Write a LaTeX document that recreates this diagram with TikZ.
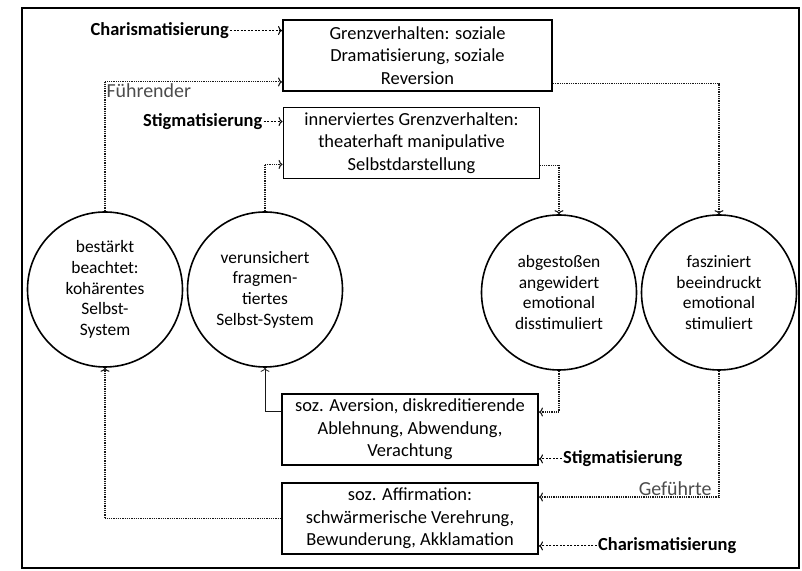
\documentclass[tikz,border=0pt]{standalone}
\usepackage{fontspec}
\setmainfont{Carlito}
\usetikzlibrary{arrows.meta,positioning}

\begin{document}
\begin{tikzpicture}[x=1bp,y=1bp,node distance=160bp,>={To[length=4bp,width=9bp]}]
            \tikzstyle{zustand}=[circle,draw,line width=1.6bp,minimum size=155bp,inner sep=0pt,align=center,font=\fontsize{17.5}{20.8}\selectfont]
            \tikzstyle{kasten}=[rectangle,draw,line width=1.9bp,minimum width=256bp,minimum height=71bp,inner sep=2bp,align=center,font=\fontsize{18.5}{22.5}\selectfont]
            \tikzstyle{etikett}=[inner sep=0pt,font=\fontsize{18.5}{22}\selectfont\bfseries]
            \tikzstyle{rolle}=[inner sep=1bp,text=black!70,font=\fontsize{20}{24}\selectfont]
            \tikzstyle{fluss}=[->,dash pattern=on 1bp off 0.8bp,line width=1.1bp,draw=black!90]
            \tikzstyle{hinweis}=[->,dash pattern=on 2bp off 1.5bp,line width=1bp]
            \useasboundingbox (0,0) rectangle (802,571);
            \draw[line width=1.5bp] (22,3) rectangle (799,563);
            \begin{scope}
            \node[kasten,minimum width=269bp](grenz) at (417.5,515.5){Grenzverhalten: soziale\\Dramatisierung, soziale\\Reversion};
            \node[kasten](innerv) at (411.5,428){innerviertes Grenzverhalten:\\theaterhaft manipulative\\Selbstdarstellung};
            \node[kasten](aversion) at (410,141.5){soz. Aversion, diskreditierende\\Ablehnung, Abwendung,\\Verachtung};
            \node[kasten,below of=aversion,node distance=89bp](affirm){soz. Affirmation:\\schwärmerische Verehrung,\\Bewunderung, Akklamation};
            \node[zustand](bestaerkt) at (105,281.5){bestärkt\\beachtet:\\kohärentes\\Selbst-\\System};
            \node[zustand,right of=bestaerkt](verunsichert){verunsichert\\fragmen-\\tiertes\\Selbst-System};
            \node[zustand](abgestossen) at (559,278.5){abgestoßen\\angewidert\\emotional\\disstimuliert};
            \node[zustand,right of=abgestossen](fasziniert){fasziniert\\beeindruckt\\emotional\\stimuliert};
            \end{scope}
            % Zuschreibungen von aussen
            \node[etikett,left=53bp of grenz.north west,yshift=-11.5bp](charisoben){Charismatisierung};
            \node[etikett,left=20bp of innerv.north west,yshift=-15bp](stigoben){Stigmatisierung};
            \node[etikett,right=24bp of aversion.south east,yshift=7bp](stigunten){Stigmatisierung};
            \node[etikett,right=59bp of affirm.south east,yshift=9bp](charisunten){Charismatisierung};
            \draw[hinweis] ([xshift=1bp]charisoben.east) -- (charisoben.east -| grenz.west);
            \draw[hinweis] ([xshift=1bp]stigoben.east) -- (stigoben.east -| innerv.west);
            \draw[hinweis] ([xshift=-1bp]stigunten.west) -- (stigunten.west -| aversion.east);
            \draw[hinweis] ([xshift=-1bp]charisunten.west) -- (charisunten.west -| affirm.east);
            % Kreislauf
            \draw[fluss] (bestaerkt.north) |- ([yshift=10bp]grenz.south west) node[rolle,pos=0.5,below right]{Führender};
            \draw[fluss] (verunsichert.north) |- ([yshift=15bp]innerv.south west);
            \draw[fluss] ([yshift=8bp]grenz.south east) -| (fasziniert.north);
            \draw[fluss] ([yshift=14bp]innerv.south east) -| (abgestossen.north);
            \draw[fluss] (abgestossen.south) |- ([yshift=-19bp]aversion.north east);
            \draw[fluss,solid,line width=0.8bp] ([yshift=-18bp]aversion.north west) -| (verunsichert.south);
            \draw[fluss] (fasziniert.south) |- ([yshift=-15bp]affirm.north east) node[rolle,pos=0.5,above left,xshift=-6bp]{Geführte};
            \draw[fluss] (affirm.west) -| (bestaerkt.south);
        \end{tikzpicture}
\end{document}
